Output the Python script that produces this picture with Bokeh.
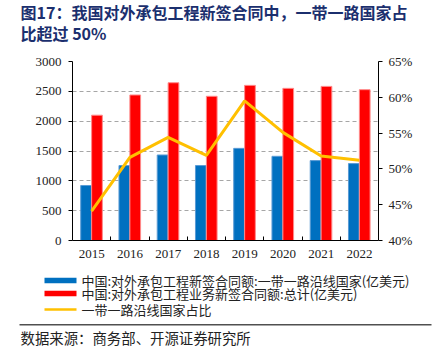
from bokeh.plotting import figure
from bokeh.layouts import column, row
from bokeh.models import (Range1d, LinearAxis, FixedTicker, PrintfTickFormatter,
                          ColumnDataSource, Spacer)
from bokeh.core.properties import value
from bokeh.embed import file_html
from bokeh.resources import INLINE

years = ["2015", "2016", "2017", "2018", "2019", "2020", "2021", "2022"]
belt_road = [922, 1256, 1433, 1256, 1544, 1411, 1339, 1289]
total = [2100, 2439, 2644, 2417, 2600, 2550, 2583, 2528]
share = [44.1, 51.6, 54.4, 51.9, 59.5, 55.1, 51.8, 51.2]

title_lines = ["图17：我国对外承包工程新签合同中，一带一路国家占", "比超过 50%"]
legend_labels = ["中国:对外承包工程新签合同额:一带一路沿线国家(亿美元)",
                 "中国:对外承包工程业务新签合同额:总计(亿美元)",
                 "一带一路沿线国家占比"]
source_text = "数据来源：商务部、开源证券研究所"

BLUE = "#0070C0"
RED = "#FF0000"
GOLD = "#FFC000"
SERIF = "Liberation Serif"
CJK = "Noto Sans CJK SC"
W = 435


def blank(h, w=W, fill="white"):
    f = figure(width=w, height=h, output_backend="svg", toolbar_location=None,
               x_range=Range1d(0, w), y_range=Range1d(0, h), min_border=0,
               x_axis_location=None, y_axis_location=None, frame_align=False)
    f.grid.visible = False
    f.outline_line_color = None
    f.background_fill_color = fill
    f.border_fill_color = fill
    return f


# ---- title panel (y measured upward from its bottom edge) ----
TOP_H = 45
top = blank(TOP_H)
top.text(x=[20, 20], y=[TOP_H - 11, TOP_H - 32], text=title_lines, text_font=value(CJK),
         text_font_size="16px", text_font_style="bold", text_color="#1B2F6E",
         text_baseline="middle", text_align="left")

# rule under the title
RULE_H = 2
rule = blank(RULE_H, w=412, fill="#505050")
rule_row = row(Spacer(width=19, height=RULE_H), rule, spacing=0)

# ---- main chart ----
n = len(years)
centers = [i + 0.5 for i in range(n)]
src = ColumnDataSource(dict(
    xc=centers,
    xb=[c - 0.145 for c in centers],
    xr=[c + 0.14 for c in centers],
    blue=belt_road, red=total, share=share))

MAIN_H = 218
p = figure(width=W, height=MAIN_H, output_backend="svg", toolbar_location=None,
           x_range=Range1d(0, n), y_range=Range1d(0, 3000),
           min_border_left=72, min_border_right=57, min_border_top=14,
           min_border_bottom=25, frame_align=False)
p.outline_line_color = None
p.background_fill_color = "white"
p.border_fill_color = "white"
p.extra_y_ranges = {"pct": Range1d(40, 65)}

p.vbar(x="xb", top="blue", width=0.28, source=src, fill_color=BLUE,
       line_color="#5A9BD5", line_width=1)
p.vbar(x="xr", top="red", width=0.28, source=src, fill_color=RED,
       line_color="#FF8A8A", line_width=1)
p.line(x="xc", y="share", source=src, y_range_name="pct",
       line_color=GOLD, line_width=3)

xa = p.xaxis[0]
xa.ticker = FixedTicker(ticks=centers, minor_ticks=list(range(1, n)))
xa.major_label_overrides = {c: y for c, y in zip(centers, years)}
xa.major_tick_in = 0
xa.major_tick_out = 0
xa.minor_tick_in = 4
xa.minor_tick_out = 0
xa.minor_tick_line_color = "black"
xa.axis_line_color = "black"
xa.major_label_standoff = 9
xa.major_label_text_font = SERIF
xa.major_label_text_font_size = "13px"
xa.major_label_text_color = "#222222"

ya = p.yaxis[0]
ya.ticker = FixedTicker(ticks=[0, 500, 1000, 1500, 2000, 2500, 3000])
ya.major_tick_in = 0
ya.major_tick_out = 4
ya.minor_tick_line_color = None
ya.axis_line_color = "black"
ya.major_label_standoff = 7
ya.major_label_text_font = SERIF
ya.major_label_text_font_size = "13px"
ya.major_label_text_color = "#222222"

ra = LinearAxis(y_range_name="pct", ticker=FixedTicker(ticks=[40, 45, 50, 55, 60, 65]),
                formatter=PrintfTickFormatter(format="%d%%"))
ra.major_tick_in = 0
ra.major_tick_out = 4
ra.minor_tick_line_color = None
ra.axis_line_color = "black"
ra.major_label_standoff = 6
ra.major_label_text_font = SERIF
ra.major_label_text_font_size = "13px"
ra.major_label_text_color = "#222222"
p.add_layout(ra, "right")

p.xgrid.grid_line_color = None
p.ygrid.grid_line_color = "#A6A6A6"
p.ygrid.grid_line_dash = "4 3"
p.ygrid.grid_line_width = 1

# ---- legend + source panel (y measured upward from its bottom edge) ----
BOT_H = 348 - TOP_H - RULE_H - MAIN_H
bot = blank(BOT_H)
rows = [BOT_H - 15, BOT_H - 28, BOT_H - 44]
bot.line(x=[44, 76], y=[rows[0], rows[0]], line_color=BLUE, line_width=5.5)
bot.line(x=[44, 76], y=[rows[1], rows[1]], line_color=RED, line_width=5.5)
bot.line(x=[44, 76], y=[rows[2], rows[2]], line_color=GOLD, line_width=2.5)
bot.text(x=[81] * 3, y=rows, text=legend_labels, text_font=value(CJK),
         text_font_size="13px", text_color="#222222",
         text_baseline="middle", text_align="left")
bot.line(x=[19, 431], y=[BOT_H - 59.3, BOT_H - 59.3], line_color="#505050",
         line_width=1.5)
bot.text(x=[20], y=[BOT_H - 71.5], text=[source_text], text_font=value(CJK),
         text_font_size="14.4px", text_color="#222222",
         text_baseline="middle", text_align="left")

layout = column(top, rule_row, p, bot, spacing=0)
open("out.html", "w").write(file_html(layout, INLINE))
